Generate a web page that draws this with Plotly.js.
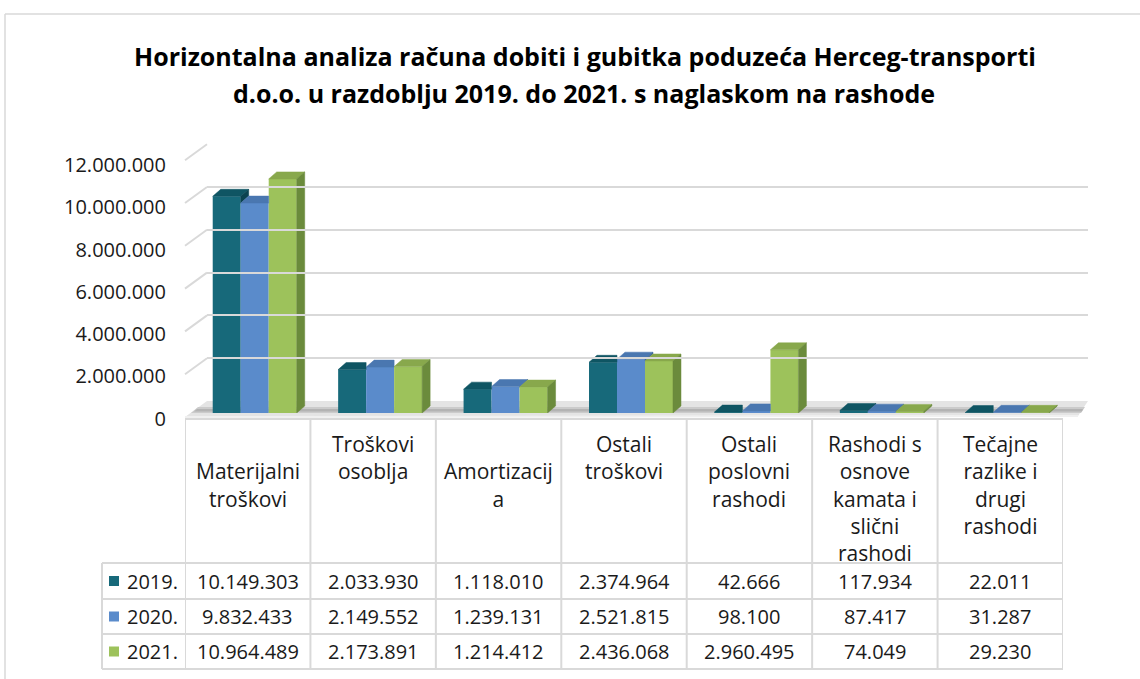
<!DOCTYPE html>
<html>
<head>
<meta charset="utf-8">
<script src="https://cdn.plot.ly/plotly-3.0.1.min.js"></script>
<style>html,body{margin:0;padding:0;background:#fff;}#chart{width:1140px;height:679px;}</style>
</head>
<body>
<div id="chart"></div>
<script>
// ---------- data ----------
const categories = [
  '\u00a0<br>Materijalni<br>troškovi',
  'Troškovi<br>osoblja',
  '\u00a0<br>Amortizacij<br>a',
  'Ostali<br>troškovi',
  'Ostali<br>poslovni<br>rashodi',
  'Rashodi s<br>osnove<br>kamata i<br>slični<br>rashodi',
  'Tečajne<br>razlike i<br>drugi<br>rashodi'
];
const years = ['2019.', '2020.', '2021.'];
const values2019 = [10149303, 2033930, 1118010, 2374964, 42666, 117934, 22011];
const values2020 = [9832433, 2149552, 1239131, 2521815, 98100, 87417, 31287];
const values2021 = [10964489, 2173891, 1214412, 2436068, 2960495, 74049, 29230];
const yTickVals = [0, 2000000, 4000000, 6000000, 8000000, 10000000, 12000000];
const yTickText = ['0', '2.000.000', '4.000.000', '6.000.000', '8.000.000', '10.000.000', '12.000.000'];
const titleLine1 = 'Horizontalna analiza računa dobiti i gubitka poduzeća Herceg-transporti';
const titleLine2 = 'd.o.o. u razdoblju 2019. do 2021. s naglaskom na rashode';

// ---------- styling ----------
const W = 1140, H = 679;
const px = x => x / W;
const py = y => 1 - y / H;
const FONT = '"Open Sans", Lato, sans-serif';
const TXT = '#1a1a1a';
const frontColors = ['#17697a', '#5a8bcb', '#9dc25b'];
const topColors = ['#0f5563', '#4a77b0', '#88a84c'];
const sideColors = ['#0b4350', '#3f6699', '#6b8b3c'];
const legendColors = ['#17697a', '#5a8bcb', '#9dc25b'];
const gridColor = '#d9d9d9';
const titleFont = {family: FONT, size: 25, color: '#000000', weight: 'bold'};

const series = [values2019, values2020, values2021];
const idx = categories.map((_, i) => i);
const fmt = v => String(v).replace(/\B(?=(\d{3})+(?!\d))/g, '.');

const barW = 0.2232, shift = 0.0558;
const offs = [0, 1, 2].map(k => shift - 1.5 * barW + k * barW);
const dx = 0.0638, dy = 328000;

const traces = [];
// front faces (bars)
series.forEach((vals, k) => {
  traces.push({
    type: 'bar', x: idx, y: vals, width: barW, offset: offs[k], name: years[k],
    marker: {color: frontColors[k], line: {width: 0}}, showlegend: false, hoverinfo: 'y'
  });
});
// 3D top and side faces
series.forEach((vals, k) => {
  const tx = [], ty = [], sx = [], sy = [];
  vals.forEach((v, i) => {
    const xl = i + offs[k], xr = xl + barW;
    const vn = k < 2 ? series[k + 1][i] : -1;
    if (k < 2 && vn > v) {
      tx.push(xl, xl + dx, xr, xr, xl, null);
      ty.push(v, v + dy, v + dy, v, v, null);
    } else {
      tx.push(xl, xl + dx, xr + dx, xr, xl, null);
      ty.push(v, v + dy, v + dy, v, v, null);
    }
    if (k === 2) {
      sx.push(xr, xr, xr + dx, xr + dx, xr, null);
      sy.push(0, v, v + dy, dy, 0, null);
    } else if (vn < v) {
      sx.push(xr, xr, xr + dx, xr + dx, xr, null);
      sy.push(vn, v, v + dy, vn + dy, vn, null);
    }
  });
  traces.push({type: 'scatter', mode: 'lines', x: tx, y: ty, fill: 'toself', fillcolor: topColors[k],
    line: {width: 0.5, color: topColors[k]}, hoverinfo: 'skip', showlegend: false});
  if (sx.length) traces.push({type: 'scatter', mode: 'lines', x: sx, y: sy, fill: 'toself', fillcolor: sideColors[k],
    line: {width: 0.5, color: sideColors[k]}, hoverinfo: 'skip', showlegend: false});
});
// helpers for back wall grid and tick label axis
traces.push({type: 'scatter', mode: 'markers', x: [0.5], y: [0], xaxis: 'x2', yaxis: 'y2', marker: {opacity: 0}, hoverinfo: 'skip', showlegend: false});
traces.push({type: 'scatter', mode: 'markers', x: [0], y: [0], xaxis: 'x', yaxis: 'y3', marker: {opacity: 0}, hoverinfo: 'skip', showlegend: false});

// ---------- shapes ----------
const shapes = [];
const line = (x0, y0, x1, y1, extra) => Object.assign({type: 'line', xref: 'paper', yref: 'paper',
  x0: px(x0), y0: py(y0), x1: px(x1), y1: py(y1), line: {color: gridColor, width: 2}}, extra || {});
// outer chart border
shapes.push(line(5, 14, 1140, 14, {line: {color: '#d9d9d9', width: 1.5}}));
shapes.push(line(5, 14, 5, 679, {line: {color: '#d9d9d9', width: 1.5}}));
// floor
const path = pts => 'M' + pts.map(p => px(p[0]) + ',' + py(p[1])).join('L') + 'Z';
shapes.push({type: 'path', xref: 'paper', yref: 'paper', layer: 'below', line: {width: 0}, fillcolor: '#e4e4e4',
  path: path([[185, 417], [207, 401], [1088, 401], [1078, 416]])});
shapes.push({type: 'path', xref: 'paper', yref: 'paper', layer: 'below', line: {width: 0}, fillcolor: '#cbcbcb',
  path: path([[191, 413], [198, 407], [1085, 407], [1081, 413]])});
shapes.push({type: 'path', xref: 'paper', yref: 'paper', layer: 'below', line: {width: 0}, fillcolor: '#b3b3b3',
  path: path([[194, 411.5], [197, 409], [1083, 409], [1082, 411.5]])});
shapes.push(line(185, 417, 1078, 416, {layer: 'below', line: {color: '#f0f0f0', width: 2}}));
// left side-wall slanted grid lines
const backY = v => 401 - v * 256.8 / 12000000;
yTickVals.forEach(v => {
  if (v > 0) shapes.push(line(185, backY(v) + 16, 207, backY(v), {layer: 'below'}));
});
// data table lines
const tableTop = 419, hdrBottom = 563, rowLines = [599, 634, 669];
for (let k = 0; k <= categories.length; k++) {
  shapes.push({type: 'line', xref: 'x', yref: 'paper', x0: k - 0.5, x1: k - 0.5, y0: py(tableTop), y1: py(669),
    line: {color: gridColor, width: 2}});
}
shapes.push(line(102, hdrBottom, 102, 669));
shapes.push({type: 'line', xref: 'x', yref: 'paper', x0: -0.5, x1: categories.length - 0.5, y0: py(tableTop), y1: py(tableTop),
  line: {color: gridColor, width: 2}});
[hdrBottom].concat(rowLines).forEach(y => shapes.push(line(102, y, 1063, y)));
// legend keys
const rowCenters = [581, 616.5, 651.5];
rowCenters.forEach((c, k) => {
  shapes.push({type: 'rect', xref: 'paper', yref: 'paper', x0: px(109), x1: px(119), y0: py(c + 5), y1: py(c - 5),
    fillcolor: legendColors[k], line: {width: 0}});
});

// ---------- annotations ----------
const annotations = [];
annotations.push({xref: 'paper', yref: 'paper', x: px(584), y: py(93), xanchor: 'center', yanchor: 'middle',
  text: titleLine2, showarrow: false, font: titleFont});
categories.forEach((c, i) => {
  annotations.push({xref: 'x', yref: 'paper', x: i, y: py(428), yanchor: 'top', xanchor: 'center',
    text: c, showarrow: false, align: 'center', font: {family: FONT, size: 21, color: TXT}});
});
series.forEach((vals, k) => {
  annotations.push({xref: 'paper', yref: 'paper', x: px(152), y: py(rowCenters[k]), xanchor: 'center', yanchor: 'middle',
    text: years[k], showarrow: false, font: {family: FONT, size: 20, color: TXT}});
  vals.forEach((v, i) => {
    annotations.push({xref: 'x', yref: 'paper', x: i, y: py(rowCenters[k]), xanchor: 'center', yanchor: 'middle',
      text: fmt(v), showarrow: false, font: {family: FONT, size: 20, color: TXT}});
  });
});

const layout = {
  width: W, height: H, autosize: false,
  margin: {l: 0, r: 0, t: 0, b: 0},
  paper_bgcolor: '#ffffff', plot_bgcolor: 'rgba(0,0,0,0)',
  showlegend: false, barmode: 'overlay',
  title: {text: titleLine1, x: px(585), xanchor: 'center', y: py(57), yanchor: 'middle', font: titleFont},
  xaxis: {domain: [px(185), px(1063)], range: [-0.5, 6.5], showgrid: false, zeroline: false,
    showticklabels: false, ticks: '', showline: false, fixedrange: true},
  yaxis: {domain: [py(413), py(413 - 256.2)], range: [0, 12000000], showgrid: false, zeroline: false,
    showticklabels: false, ticks: '', showline: false, fixedrange: true},
  xaxis2: {domain: [px(207), px(1088)], range: [0, 1], anchor: 'y2', showgrid: false, zeroline: false,
    showticklabels: false, ticks: '', showline: false, fixedrange: true},
  yaxis2: {domain: [py(401), py(401 - 256.8)], range: [0, 12000000], anchor: 'x2', tickvals: yTickVals,
    showticklabels: false, ticks: '', showgrid: true, gridcolor: gridColor, gridwidth: 2, zeroline: false,
    showline: false, fixedrange: true},
  yaxis3: {domain: [py(418.5), py(165.2)], range: [0, 12000000], anchor: 'free', position: px(166),
    tickvals: yTickVals, ticktext: yTickText, showgrid: false, zeroline: false, showline: false, ticks: '',
    tickfont: {family: FONT, size: 20, color: TXT}, fixedrange: true},
  shapes: shapes,
  annotations: annotations
};

Plotly.newPlot('chart', traces, layout, {displayModeBar: false, staticPlot: true});
</script>
</body>
</html>
